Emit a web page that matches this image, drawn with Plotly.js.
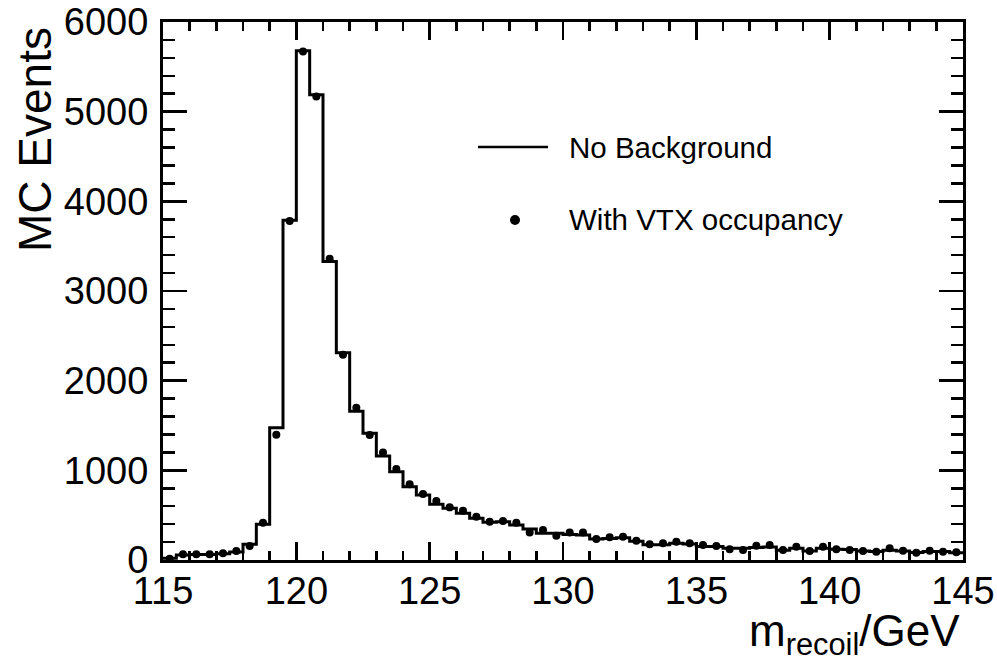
<!DOCTYPE html>
<html>
<head>
<meta charset="utf-8">
<script src="https://cdn.plot.ly/plotly-3.0.1.min.js"></script>
<style>html,body{margin:0;padding:0;background:#fff;}#chart{width:997px;height:663px;}</style>
</head>
<body>
<div id="chart"></div>
<script>
// Histogram binning (GeV)
var binLow = 115, binWidth = 0.5, binHigh = 145;

// "No Background" histogram contents, one value per 0.5 GeV bin from 115 to 145
var noBackground = [
  20, 55, 60, 60, 70, 90, 175, 400, 1476, 3790,
  5680, 5190, 3330, 2310, 1660, 1413, 1160, 985, 818, 725,
  621, 576, 520, 465, 420, 427, 390, 346, 297, 297,
  285, 280, 234, 240, 249, 210, 170, 170, 186, 178,
  150, 150, 130, 130, 140, 145, 110, 130, 100, 130,
  120, 118, 100, 95, 110, 100, 85, 95, 95, 80
];

// "With VTX occupancy" contents, same bins
var withVTX = [
  15, 65, 65, 65, 75, 100, 155, 415, 1396, 3780,
  5670, 5170, 3360, 2288, 1699, 1394, 1200, 1015, 844, 736,
  658, 587, 550, 483, 427, 435, 416, 308, 335, 271,
  308, 308, 234, 253, 260, 216, 175, 186, 204, 186,
  167, 156, 119, 112, 160, 167, 112, 149, 100, 149,
  119, 112, 100, 93, 130, 104, 82, 104, 93, 86
];

var legendLabels = ["No Background", "With VTX occupancy"];

// Build bin edges and centres from the binning
var edges = [], centres = [];
for (var i = 0; i < noBackground.length; i++) {
  edges.push(binLow + i * binWidth);
  centres.push(binLow + (i + 0.5) * binWidth);
}
edges.push(binHigh);
var stepY = noBackground.concat([noBackground[noBackground.length - 1]]);

var FONT = "Liberation Sans, Arial, Helvetica, sans-serif";

var traces = [
  {
    type: "scatter", mode: "lines", x: edges, y: stepY,
    line: {shape: "hv", color: "#000", width: 3},
    name: legendLabels[0], showlegend: false, cliponaxis: true
  },
  {
    type: "scatter", mode: "markers", x: centres, y: withVTX,
    marker: {symbol: "circle", size: 8, color: "#000"},
    name: legendLabels[1], showlegend: false, cliponaxis: false
  }
];

var px = function (p) { return (p - 163) / 800; };
var py = function (p) { return (560 - p) / 538; };

var layout = {
  width: 997, height: 663,
  margin: {l: 163, r: 34, t: 22, b: 103, pad: 0},
  paper_bgcolor: "#fff", plot_bgcolor: "#fff",
  font: {family: FONT, color: "#000"},
  showlegend: false,
  xaxis: {
    range: [binLow, binHigh], dtick: 5, tick0: 115,
    ticks: "inside", ticklen: 18, tickwidth: 2.5, tickcolor: "#000",
    minor: {dtick: 1, ticks: "inside", ticklen: 9, tickwidth: 2.5, tickcolor: "#000"},
    showline: true, linewidth: 3, linecolor: "#000", mirror: "ticks",
    showgrid: false, zeroline: false,
    tickfont: {family: FONT, size: 38, color: "#000"},
    ticklabelstandoff: -5
  },
  yaxis: {
    range: [0, 6000], dtick: 1000,
    ticks: "inside", ticklen: 24, tickwidth: 2.5, tickcolor: "#000",
    minor: {dtick: 200, ticks: "inside", ticklen: 12, tickwidth: 2.5, tickcolor: "#000"},
    showline: true, linewidth: 3, linecolor: "#000", mirror: "ticks",
    showgrid: false, zeroline: false,
    tickfont: {family: FONT, size: 38, color: "#000"},
    ticklabelstandoff: 4
  },
  shapes: [
    {type: "line", xref: "paper", yref: "paper", x0: px(478), x1: px(548), y0: py(147), y1: py(147),
     line: {color: "#000", width: 2.5}},
    {type: "circle", xref: "paper", yref: "paper", x0: px(510), x1: px(520), y0: py(225), y1: py(215),
     fillcolor: "#000", line: {color: "#000", width: 0}}
  ],
  annotations: [
    {xref: "paper", yref: "paper", x: px(567), y: py(147), xanchor: "left", yanchor: "middle",
     text: legendLabels[0], showarrow: false, font: {family: FONT, size: 29.5, color: "#000"}},
    {xref: "paper", yref: "paper", x: px(567), y: py(219), xanchor: "left", yanchor: "middle",
     text: legendLabels[1], showarrow: false, font: {family: FONT, size: 29.5, color: "#000"}},
    {xref: "paper", yref: "paper", x: px(35), y: py(140), xanchor: "center", yanchor: "middle",
     textangle: -90, text: "MC Events", showarrow: false, font: {family: FONT, size: 46, color: "#000"}},
    {xref: "paper", yref: "paper", x: px(962), y: py(604), xanchor: "right", yanchor: "top",
     text: "m<sub>recoil</sub>/GeV", showarrow: false, font: {family: FONT, size: 44, color: "#000"}}
  ]
};

Plotly.newPlot("chart", traces, layout, {staticPlot: true, displayModeBar: false});
</script>
</body>
</html>
